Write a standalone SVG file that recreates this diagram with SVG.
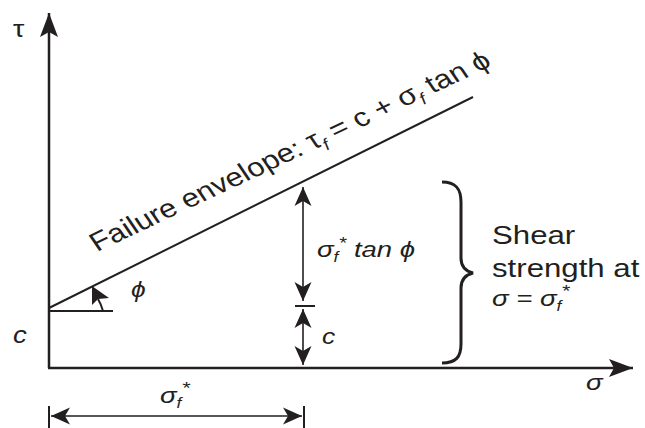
<svg xmlns="http://www.w3.org/2000/svg" width="645" height="428" viewBox="0 0 645 428">
<style>
.ln{stroke:#231f20;fill:none;stroke-linecap:butt}
.ax{stroke-width:2.5}
.dim{stroke-width:1.6}
.t{font-family:"Liberation Sans",Arial,sans-serif;fill:#231f20}
.i{font-style:italic}
</style>
<defs>
<marker id="axh" markerUnits="userSpaceOnUse" viewBox="-26 -10 28 20" refX="0" refY="0" markerWidth="28" markerHeight="20" orient="auto">
<path d="M0,0 L-24,-9 L-19,0 L-24,9 Z" fill="#231f20"/>
</marker>
<marker id="ah" markerUnits="userSpaceOnUse" viewBox="-22 -10 24 20" refX="0" refY="0" markerWidth="24" markerHeight="20" orient="auto-start-reverse">
<path d="M0,0 L-19,-8.5 L-14,0 L-19,8.5 Z" fill="#231f20"/>
</marker>
</defs>
<rect width="645" height="428" fill="#ffffff"/>
<g id="axes">
<path class="ln ax" d="M49,368 L49,13" marker-end="url(#axh)"/>
<path class="ln ax" d="M48,368 L633,368" marker-end="url(#axh)"/>
<text class="t" transform="translate(13,37) scale(1.25,1)" font-size="23">τ</text>
<text class="t i" transform="translate(586,390) scale(1.25,1)" font-size="22">σ</text>
<text class="t i" transform="translate(13,343) scale(1.2,1)" font-size="23">c</text>
</g>
<g id="envelope">
<path class="ln" stroke-width="2" d="M49,308 L473,97"/>
<path class="ln" stroke-width="2" d="M49,311 L113,311"/>
<text class="t" transform="translate(97,252) scale(1.2,1) rotate(-29.5)" font-size="26">Failure envelope: τ<tspan font-size="16" font-style="italic" dy="6">f</tspan><tspan dy="-6"> = c + σ</tspan><tspan font-size="16" font-style="italic" dy="6">f</tspan><tspan dy="-6"> tan ϕ</tspan></text>
</g>
<g id="angle">
<path class="ln" stroke-width="2" d="M103,311 Q101,304 98,299"/>
<path d="M92,286 L92,305 L98,299 L109,298 Z" fill="#231f20"/>
<text class="t i" transform="translate(131,297) scale(1.2,1)" font-size="22">ϕ</text>
</g>
<g id="connectors">
<path class="ln dim" d="M303,301 L303,187" marker-start="url(#ah)" marker-end="url(#ah)"/>
<path class="ln" stroke-width="2" d="M295,306 L315,306"/>
<path class="ln dim" d="M303,365 L303,309" marker-start="url(#ah)" marker-end="url(#ah)"/>
<path class="ln dim" d="M51,416 L302,416" marker-start="url(#ah)" marker-end="url(#ah)"/>
<path class="ln" stroke-width="2" d="M49,406 L49,428 M304,406 L304,428"/>
</g>
<g id="dim-labels">
<text class="t i" transform="translate(317,257) scale(1.25,1)" font-size="22">σ<tspan font-size="14" dy="5">f</tspan><tspan font-size="16" dy="-13">*</tspan><tspan dy="8"> tan ϕ</tspan></text>
<text class="t i" transform="translate(322,344) scale(1.2,1)" font-size="22">c</text>
<text class="t i" transform="translate(160,403) scale(1.25,1)" font-size="22">σ<tspan font-size="14" dy="5">f</tspan><tspan font-size="17" dy="-14">*</tspan></text>
</g>
<g id="brace">
<path class="ln" stroke-width="3" d="M442,182 C456,182 461,189 461,202 L461,258 C461,266 465,271 473,273 C465,275 461,280 461,288 L461,344 C461,357 456,363 442,363"/>
</g>
<g id="shear-label">
<text class="t" transform="translate(492,244) scale(1.2,1)" font-size="26">Shear</text>
<text class="t" transform="translate(492,277) scale(1.2,1)" font-size="26">strength at</text>
<text class="t i" transform="translate(492,306) scale(1.25,1)" font-size="22">σ = σ<tspan font-size="14" dy="5">f</tspan><tspan font-size="17" dy="-14">*</tspan></text>
</g>
</svg>
